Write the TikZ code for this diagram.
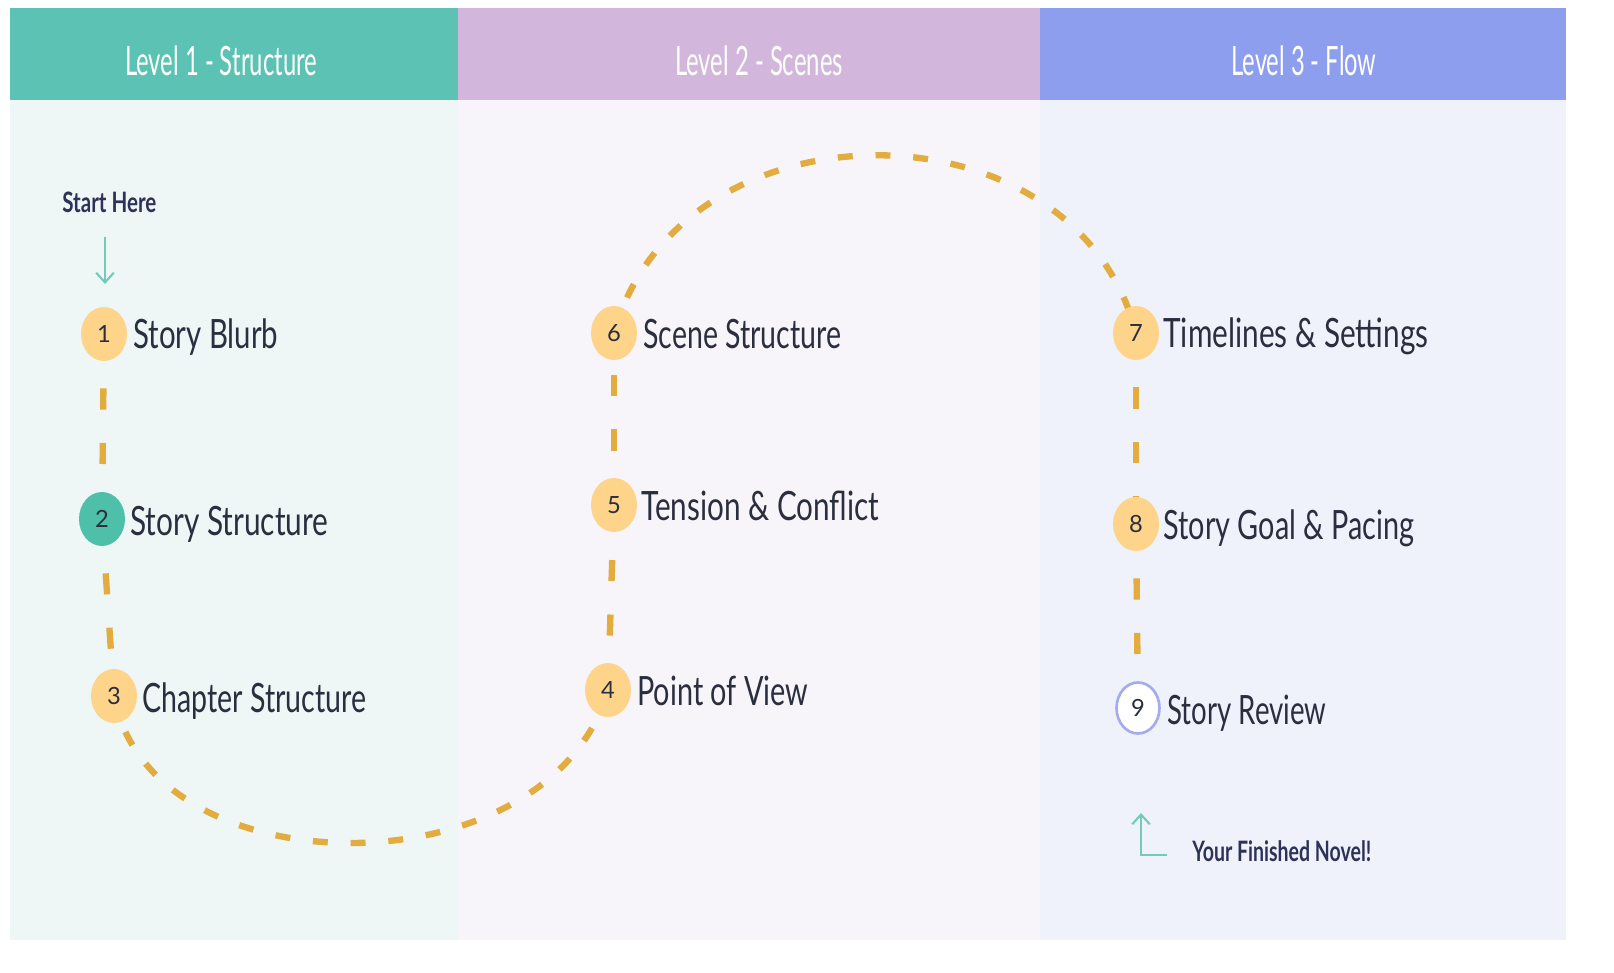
\documentclass[tikz,border=0pt]{standalone}
\usepackage{fontspec}
\setmainfont{Lato}
\usepackage{graphicx}
\usetikzlibrary{shapes.geometric,arrows.meta}
\pgfdeclarelayer{bg}
\pgfdeclarelayer{mid}
\pgfsetlayers{bg,mid,main}
\newlength\pxu
\setlength\pxu{0.02cm}
\newcommand\fitw[2]{\resizebox{#1\pxu}{\height}{#2}}
\definecolor{hA}{HTML}{5CC2B3}
\definecolor{hB}{HTML}{D3B6DC}
\definecolor{hC}{HTML}{8E9EEE}
\definecolor{bA}{HTML}{EEF6F6}
\definecolor{bB}{HTML}{F7F5F9}
\definecolor{bC}{HTML}{EFF2FB}
\definecolor{gold}{HTML}{E2AC3F}
\definecolor{dotfill}{HTML}{FDD48A}
\definecolor{dotteal}{HTML}{4EBFA8}
\definecolor{ring}{HTML}{A4ABEE}
\definecolor{ink}{HTML}{2B2E3E}
\definecolor{navy}{HTML}{2D3358}
\definecolor{arrteal}{HTML}{72CBB9}
\begin{document}
\begin{tikzpicture}[x=0.02cm,y=-0.02cm,
  dot/.style={ellipse, fill=dotfill, minimum width=46\pxu, minimum height=54\pxu, inner sep=0pt,
    text=ink, font=\fontsize{13.5}{13.5}\selectfont},
  lbl/.style={anchor=base west, inner sep=0pt, text=ink, font=\fontsize{23}{27}\selectfont},
  hdr/.style={anchor=base, inner sep=0pt, text=white, font=\fontsize{23}{27}\selectfont},
  note/.style={anchor=base west, inner sep=0pt, text=navy, font=\bfseries\fontsize{16}{18}\selectfont},
  vline/.style={draw=gold, line width=3.6pt, dash pattern=on 12pt off 19pt},
  arcline/.style={draw=gold, line width=3.6pt, dash pattern=on 8.5pt off 13pt},
  pointer/.style={draw=arrteal, line width=1.2pt, -{Straight Barb[length=5.5pt,width=10pt]}}
]
\useasboundingbox (0,0) rectangle (1614,973);
\begin{pgfonlayer}{bg}
  \fill[white] (0,0) rectangle (1614,973);
  \fill[bA] (10,100) rectangle (458,940);
  \fill[bB] (458,100) rectangle (1040,940);
  \fill[bC] (1040,100) rectangle (1566,940);
  \fill[hA] (10,8) rectangle (458,100);
  \fill[hB] (458,8) rectangle (1040,100);
  \fill[hC] (1040,8) rectangle (1566,100);
\end{pgfonlayer}

% headers
\node[hdr] (h1) at (221,76) {\fitw{192}{Level 1 - Structure}};
\node[hdr] (h2) at (759,76) {\fitw{168}{Level 2 - Scenes}};
\node[hdr] (h3) at (1304,76) {\fitw{145}{Level 3 - Flow}};

% step circles
\node[dot] (c1) at (104,334) {1};
\node[dot, fill=dotteal] (c2) at (102,519) {2};
\node[dot] (c3) at (114,696) {3};
\node[dot] (c4) at (608,690) {4};
\node[dot] (c5) at (614,505) {5};
\node[dot] (c6) at (614,333) {6};
\node[dot] (c7) at (1136,333) {7};
\node[dot] (c8) at (1136,524) {8};
\node[dot, fill=white, draw=ring, line width=1.5pt, minimum width=43\pxu, minimum height=51\pxu] (c9) at (1138,708) {9};

% labels
\node[lbl] (t1) at (133,349) {\fitw{145}{Story Blurb}};
\node[lbl] (t2) at (130,535) {\fitw{198}{Story Structure}};
\node[lbl] (t3) at (142,712) {\fitw{224}{Chapter Structure}};
\node[lbl] (t4) at (637,705) {\fitw{171}{Point of View}};
\node[lbl] (t5) at (641,520) {\fitw{238}{Tension \& Conflict}};
\node[lbl] (t6) at (643,349) {\fitw{198}{Scene Structure}};
\node[lbl] (t7) at (1163,348) {\fitw{265}{Timelines \& Settings}};
\node[lbl] (t8) at (1163,540) {\fitw{251}{Story Goal \& Pacing}};
\node[lbl] (t9) at (1167,724) {\fitw{159}{Story Review}};

% notes
\node[note] (start) at (62,213) {\fitw{94}{Start Here}};
\node[note] (finish) at (1192,861) {\fitw{179}{Your Finished Novel!}};

% pointers
\coordinate (sa) at (105,237);
\coordinate (sb) at (105,284);
\draw[pointer] (sa) -- (sb);
\coordinate (fa) at (1167,855);
\coordinate (fb) at (1141,855);
\coordinate (fc) at (1141,813);
\draw[pointer] (fa) -- (fb) -- (fc);

% dashed route
\begin{pgfonlayer}{mid}
  \draw[vline] (c1.center) -- (c2.center);
  \draw[vline] (c2.center) -- (c3.center);
  \draw[arcline] (c3.center) .. controls (150,893) and (550,893) .. (c4.center);
  \draw[vline] (c4.center) -- (c5.center);
  \draw[vline] (c5.center) -- (c6.center);
  \draw[arcline] (c6.center) .. controls (680,96) and (1075,96) .. (c7.center);
  \draw[vline] (c7.center) -- (c8.center);
  \draw[vline] (c8.center) -- (c9.center);
\end{pgfonlayer}
\end{tikzpicture}
\end{document}
